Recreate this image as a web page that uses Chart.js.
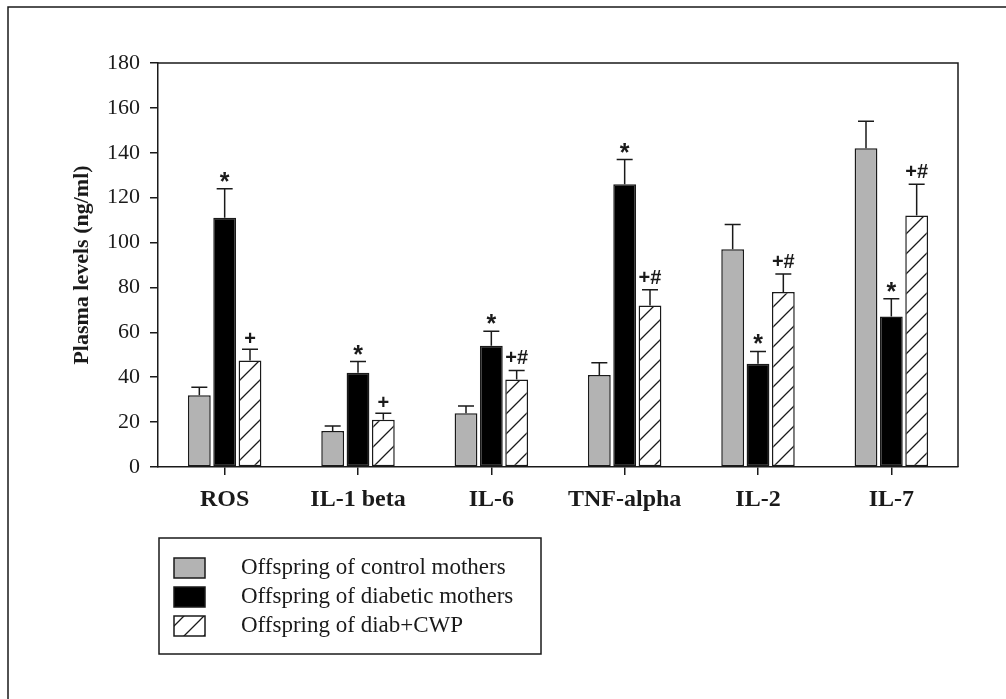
<!DOCTYPE html>
<html>
<head>
<meta charset="utf-8">
<script src="https://cdn.jsdelivr.net/npm/chart.js@4.4.1/dist/chart.umd.min.js"></script>
<style>
  html, body { margin: 0; padding: 0; background: #fff; }
  #wrap { width: 1006px; height: 699px; position: relative; }
</style>
</head>
<body>
<div id="wrap"><canvas id="chart" width="1006" height="699"></canvas></div>
<script>
// data
const categories = ['ROS', 'IL-1 beta', 'IL-6', 'TNF-alpha', 'IL-2', 'IL-7'];
const seriesNames = ['Offspring of control mothers', 'Offspring of diabetic mothers', 'Offspring of diab+CWP'];
const controlVals = [32, 16, 24, 41, 97, 142];
const controlErr = [3.5, 2.3, 3.2, 5.5, 11, 12];
const diabVals = [111, 42, 54, 126, 46, 67];
const diabErr = [13, 5, 6.5, 11, 5.5, 8];
const cwpVals = [47.5, 21, 39, 72, 78, 112];
const cwpErr = [5, 3, 4, 7, 8, 14];
const diabMarks = ['*', '*', '*', '*', '*', '*'];
const cwpMarks = ['+', '+', '+#', '+#', '+#', '+#'];
const yTicks = [0, 20, 40, 60, 80, 100, 120, 140, 160, 180];

const ink = '#1a1a1a';

// diagonal hatch "/" on white
function makeHatch() {
    const n = 20;
    const c = document.createElement('canvas');
    c.width = n; c.height = n;
    const g = c.getContext('2d');
    g.fillStyle = '#fff';
    g.fillRect(0, 0, n, n);
    g.strokeStyle = ink;
    g.lineWidth = 1.3;
    g.beginPath();
    g.moveTo(-2, n + 2); g.lineTo(n + 2, -2);
    g.moveTo(-2, 2); g.lineTo(2, -2);
    g.moveTo(n - 2, n + 2); g.lineTo(n + 2, n - 2);
    g.stroke();
    return document.getElementById('chart').getContext('2d').createPattern(c, 'repeat');
}
const hatch = makeHatch();

const errs = [controlErr, diabErr, cwpErr];
const marks = [null, diabMarks, cwpMarks];
const fills = ['#b3b3b3', '#000000', hatch];

// error bars, significance marks, frame, legend
const extras = {
    id: 'extras',
    beforeDraw(chart) {
        const ctx = chart.ctx;
        ctx.save();
        ctx.strokeStyle = ink;
        ctx.lineWidth = 1.5;
        ctx.beginPath();
        ctx.moveTo(8, 699); ctx.lineTo(8, 7); ctx.lineTo(1006, 7);
        ctx.stroke();
        ctx.restore();
    },
    afterDatasetsDraw(chart) {
        const ctx = chart.ctx;
        const ys = chart.scales.y;
        ctx.save();
        ctx.strokeStyle = ink;
        ctx.lineWidth = 1.5;
        chart.data.datasets.forEach(function (ds, i) {
            const meta = chart.getDatasetMeta(i);
            meta.data.forEach(function (bar, j) {
                const top = ys.getPixelForValue(ds.data[j]);
                const cap = ys.getPixelForValue(ds.data[j] + errs[i][j]);
                ctx.beginPath();
                ctx.moveTo(bar.x, top);
                ctx.lineTo(bar.x, cap);
                ctx.moveTo(bar.x - 8, cap);
                ctx.lineTo(bar.x + 8, cap);
                ctx.stroke();
                if (marks[i]) {
                    const txt = marks[i][j];
                    const star = txt === '*';
                    ctx.fillStyle = ink;
                    ctx.font = 'bold ' + (star ? 25 : 20) + 'px "Liberation Sans", Arial, sans-serif';
                    ctx.textAlign = 'center';
                    ctx.textBaseline = 'alphabetic';
                    const m = ctx.measureText(txt);
                    const gap = star ? 7 : 6;
                    ctx.fillText(txt, bar.x, cap - gap - m.actualBoundingBoxDescent);
                }
            });
        });
        // top and right of the plot frame
        const a = chart.chartArea;
        ctx.beginPath();
        ctx.moveTo(a.left, a.top);
        ctx.lineTo(a.right, a.top);
        ctx.lineTo(a.right, a.bottom);
        ctx.stroke();
        ctx.restore();
    },
    afterDraw(chart) {
        const ctx = chart.ctx;
        ctx.save();
        ctx.strokeStyle = ink;
        ctx.lineWidth = 1.5;
        ctx.strokeRect(159, 538, 382, 116);
        const rowTop = [558, 587, 616];
        ctx.font = '23px "Liberation Serif", "Times New Roman", serif';
        ctx.textAlign = 'left';
        ctx.textBaseline = 'middle';
        for (let i = 0; i < 3; i++) {
            ctx.fillStyle = fills[i];
            ctx.fillRect(174, rowTop[i], 31, 20);
            ctx.lineWidth = 1.5;
            ctx.strokeRect(174, rowTop[i], 31, 20);
            ctx.fillStyle = ink;
            ctx.fillText(seriesNames[i], 241, rowTop[i] + 10);
        }
        ctx.restore();
    }
};

const dsBase = { borderColor: ink, borderWidth: 1.5, borderSkipped: false,
                 categoryPercentage: 0.57, barPercentage: 0.9 };

new Chart(document.getElementById('chart'), {
    type: 'bar',
    data: {
        labels: categories,
        datasets: [
            Object.assign({ label: seriesNames[0], data: controlVals, backgroundColor: fills[0] }, dsBase),
            Object.assign({ label: seriesNames[1], data: diabVals, backgroundColor: fills[1] }, dsBase),
            Object.assign({ label: seriesNames[2], data: cwpVals, backgroundColor: fills[2] }, dsBase)
        ]
    },
    options: {
        responsive: false,
        animation: false,
        layout: { padding: { left: 0, top: 63, right: 48, bottom: 172 } },
        plugins: { legend: { display: false }, tooltip: { enabled: false } },
        scales: {
            x: {
                afterFit: function (s) { s.height = 60; },
                grid: { offset: false, drawOnChartArea: false, tickLength: 8, color: ink, lineWidth: 1.5 },
                border: { color: ink, width: 1.5 },
                ticks: {
                    color: ink, padding: 10,
                    font: { family: '"Liberation Serif", "Times New Roman", serif', size: 24, weight: 'bold' }
                }
            },
            y: {
                min: 0, max: 180,
                afterFit: function (s) { s.width = 158; },
                afterBuildTicks: function (s) { s.ticks = yTicks.map(function (v) { return { value: v }; }); },
                grid: { drawOnChartArea: false, tickLength: 8, color: ink, lineWidth: 1.5 },
                border: { color: ink, width: 1.5 },
                ticks: {
                    color: ink, padding: 10,
                    font: { family: '"Liberation Serif", "Times New Roman", serif', size: 22 }
                },
                title: {
                    display: true, text: 'Plasma levels (ng/ml)', color: ink,
                    padding: { top: 69, bottom: 0 },
                    font: { family: '"Liberation Serif", "Times New Roman", serif', size: 22, weight: 'bold' }
                }
            }
        }
    },
    plugins: [extras]
});
</script>
</body>
</html>
